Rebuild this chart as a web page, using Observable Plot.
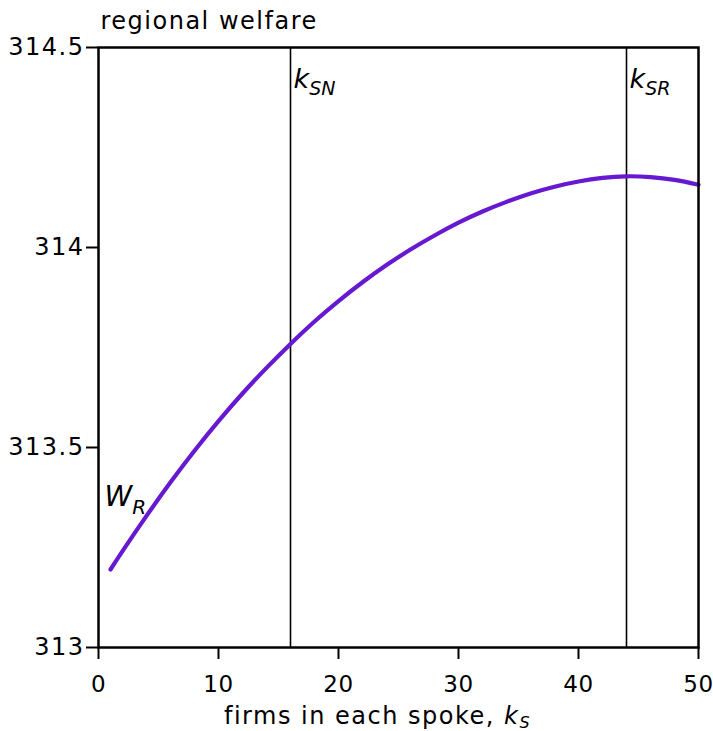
<!DOCTYPE html>
<html><head><meta charset="utf-8">
<script src="https://cdn.jsdelivr.net/npm/d3@7"></script>
<script src="https://cdn.jsdelivr.net/npm/@observablehq/plot@0.6"></script>
<style>body{margin:0;background:#fff} svg text{white-space:pre}</style>
</head><body><div id="chart"></div>
<script>
// firms in each spoke (x) and regional welfare (y)
const firms   = [1, 2, 4, 6, 8, 10, 12, 14, 16, 18, 20, 22, 24, 26, 28, 30, 32, 34, 36, 38, 40, 42, 44, 46, 48, 50];
const welfare = [313.195, 313.241, 313.329, 313.413, 313.492, 313.566, 313.635, 313.699, 313.759, 313.815, 313.866,
                 313.913, 313.956, 313.995, 314.030, 314.062, 314.090, 314.114, 314.135, 314.152, 314.165, 314.174,
                 314.178, 314.176, 314.169, 314.157];
const markerFirms  = [16, 44];
const markerLabels = ["k_SN", "k_SR"];
const curveLabel = ["W_R"];
const curveLabelAt = [{x: 0, y: 313.355}];
const yTicks = [313, 313.5, 314, 314.5];
const yTickLabels = ["313", "313.5", "314", "314.5"];
const xTicks = [0, 10, 20, 30, 40, 50];
const xTickLabels = ["0", "10", "20", "30", "40", "50"];
const yTitle = "regional welfare";
const xTitle = "firms in each spoke, k_S";

const data = firms.map((k, i) => ({k, w: welfare[i]}));
const markers = markerFirms.map((k, i) => ({k, label: markerLabels[i]}));
const curveLabels = curveLabel.map((t, i) => ({...curveLabelAt[i], label: t}));

const svg = Plot.plot({
  width: 713, height: 731,
  marginLeft: 98, marginRight: 15, marginTop: 47, marginBottom: 84,
  style: {fontFamily: "DejaVu Sans", fontSize: "24px", background: "#fff", color: "#000"},
  x: {domain: [0, 50]},
  y: {domain: [313, 314.5]},
  marks: [
    Plot.axisY({ticks: yTicks, tickFormat: d => yTickLabels[yTicks.indexOf(d)], tickSize: 12, tickPadding: 2, label: null, strokeWidth: 2, fontSize: 24}),
    Plot.axisX({ticks: xTicks, tickFormat: d => xTickLabels[xTicks.indexOf(d)], tickSize: 12, tickPadding: 16, label: null, strokeWidth: 2, fontSize: 23, className: "xticks"}),
    Plot.ruleX(markers, {x: "k", stroke: "#000", strokeWidth: 1.6}),
    Plot.line(data, {x: "k", y: "w", stroke: "#6619d0", strokeWidth: 4.2, curve: "natural"}),
    Plot.frame({stroke: "#000", strokeWidth: 2.5}),
    Plot.text([yTitle], {frameAnchor: "top-left", text: d => d, dx: 2, dy: -19, textAnchor: "start", lineAnchor: "bottom", fontSize: 24}),
    Plot.text([xTitle], {frameAnchor: "bottom", text: d => d, dx: -21, dy: 76, textAnchor: "middle", lineAnchor: "bottom", fontSize: 24, className: "sublabel"}),
    Plot.text(markers, {x: "k", y: () => 314.5, text: "label", dx: 3, dy: 40, textAnchor: "start", lineAnchor: "bottom", fontSize: 27, fontStyle: "italic", className: "sublabel2"}),
    Plot.text(curveLabels, {x: "x", y: "y", text: "label", dx: 6, textAnchor: "start", lineAnchor: "bottom", fontSize: 28, fontStyle: "italic", className: "sublabel3"})
  ]
});
svg.style.letterSpacing = "1.5px";
d3.select(svg).selectAll("g.xticks text").attr("letter-spacing", "0.5px");

function subscriptify(el, subSize, subDy) {
  const t = el.textContent;
  const m = t.match(/^(.*?)([A-Za-z])_(\w+)$/);
  if (!m) return;
  const sel = d3.select(el);
  sel.text(null);
  if (m[1]) sel.append("tspan").attr("font-style", "normal").text(m[1]);
  sel.append("tspan").attr("font-style", "italic").text(m[2]);
  sel.append("tspan").attr("font-style", "italic").attr("font-size", subSize).attr("dy", subDy).text(m[3]);
}
d3.select(svg).selectAll("g.sublabel text").each(function() { subscriptify(this, 16, 4); });
d3.select(svg).selectAll("g.sublabel2 text").each(function() { subscriptify(this, 19, 7); }).attr("letter-spacing", "0");
d3.select(svg).selectAll("g.sublabel3 text").each(function() { subscriptify(this, 20, 8); }).attr("letter-spacing", "0");

document.getElementById("chart").appendChild(svg);
</script>
</body></html>
